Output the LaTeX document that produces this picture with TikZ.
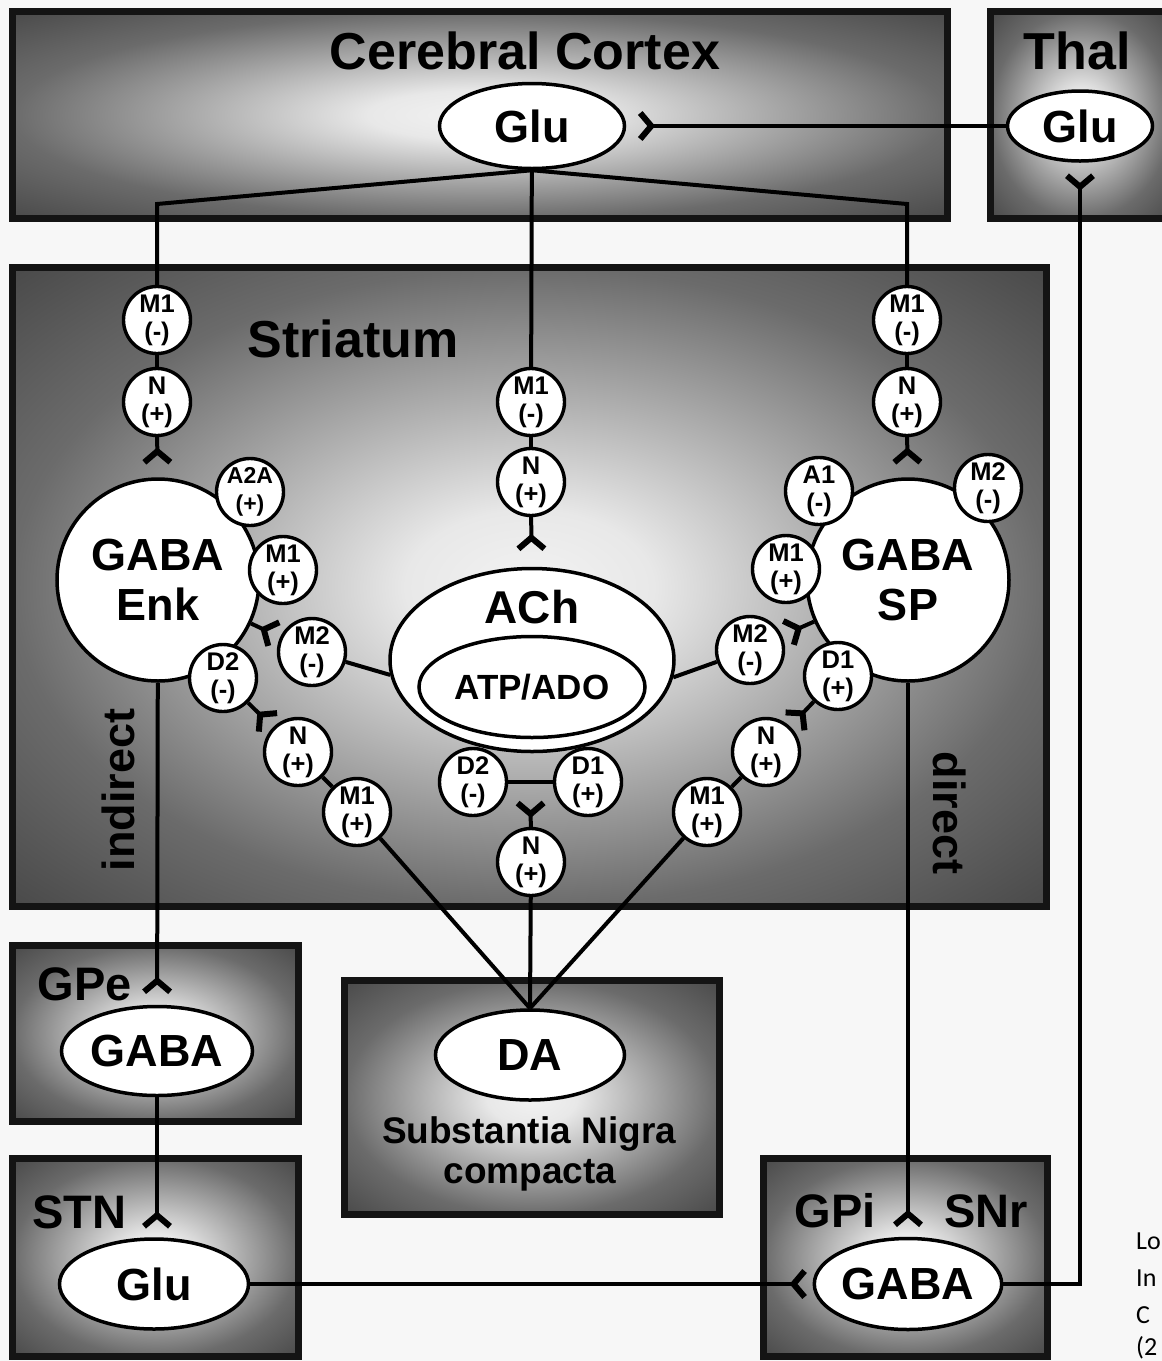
\documentclass[tikz,border=0pt]{standalone}
\usepackage{fontspec}
\setmainfont{Liberation Sans}
\newfontfamily\sidefont{Carlito}
\usetikzlibrary{arrows.meta,shapes.geometric,calc}
\pgfdeclarelayer{bg}
\pgfdeclarelayer{lines}
\pgfsetlayers{bg,lines,main}
\pgfdeclareradialshading{boxsh}{\pgfpoint{0bp}{0bp}}{color(0bp)=(black!5); color(6bp)=(black!9); color(25bp)=(black!58); color(36bp)=(black!72); color(50bp)=(black!75)}
\tikzset{
  box/.style={draw=black!92, line width=7, shade, shading=boxsh, inner sep=0, outer sep=0},
  oval/.style={ellipse, draw, line width=3.5, fill=white, inner sep=0, font=\fontsize{45}{45}\selectfont\bfseries},
  big/.style={circle, draw, line width=3.5, fill=white, minimum size=202, inner sep=0, align=center, font=\fontsize{45}{50}\selectfont\bfseries},
  rec/.style={circle, draw, line width=3.4, fill=white, minimum size=67, inner sep=-8pt, align=center, font=\fontsize{25.5}{28}\selectfont\bfseries},
  conn/.style={line width=4},
  syn/.style={conn, -{Straight Barb[reversed, length=11pt, width=26pt, line width=6pt]}},
  lbl/.style={inner sep=0, font=\fontsize{52}{52}\selectfont\bfseries},
  sidelbl/.style={inner sep=0, anchor=base west, font=\sidefont\fontsize{26}{26}\selectfont}
}
\begin{document}
\begin{tikzpicture}[x=1pt, y=-1pt]
\useasboundingbox (0,0) rectangle (1162,1361);
\begin{pgfonlayer}{bg}
\fill[black!3] (0,0) rectangle (1162,1361);
\node[box, minimum width=935, minimum height=207] (cortexbox) at (480,115) {};
\node[box, minimum width=181, minimum height=207] (thalbox) at (1081,115) {};
\node[box, minimum width=1034, minimum height=639] (stribox) at (529.5,587) {};
\node[box, minimum width=286, minimum height=176] (gpebox) at (155.5,1033.5) {};
\node[box, minimum width=286, minimum height=198] (stnbox) at (155.5,1257.5) {};
\node[box, minimum width=375, minimum height=234] (snbox) at (532,1097.5) {};
\node[box, minimum width=284, minimum height=198] (gpibox) at (905.5,1257.5) {};
\end{pgfonlayer}

% region labels
\node[lbl, anchor=base] (ctxlbl) at (525,69) {Cerebral Cortex};
\node[lbl, anchor=base] (thallbl) at (1077,69) {Thal};
\node[lbl, anchor=base] (strilbl) at (353,357) {Striatum};
\node[lbl, anchor=base, font=\fontsize{47}{47}\selectfont\bfseries] (gpelbl) at (85,1000) {GPe};
\node[lbl, anchor=base, font=\fontsize{47}{47}\selectfont\bfseries] (stnlbl) at (79,1228) {STN};
\node[lbl, anchor=base, font=\fontsize{47}{47}\selectfont\bfseries] (gpilbl) at (835,1227) {GPi};
\node[lbl, anchor=base, font=\fontsize{47}{47}\selectfont\bfseries] (snrlbl) at (986,1227) {SNr};
\node[lbl, anchor=base, font=\fontsize{37}{37}\selectfont\bfseries] (snlbl) at (529,1143) {Substantia Nigra};
\node[lbl, anchor=base, font=\fontsize{37}{37}\selectfont\bfseries] (snlblb) at (530,1183) {compacta};
\node[lbl, rotate=90, font=\fontsize{45}{45}\selectfont\bfseries] (indlbl) at (118,790) {indirect};
\node[lbl, rotate=-90, font=\fontsize{45}{45}\selectfont\bfseries] (dirlbl) at (950,813) {direct};

% transmitter ovals
\node[oval, minimum width=185, minimum height=85] (ctxglu) at (532,126) {Glu};
\node[oval, minimum width=145, minimum height=70] (thalglu) at (1080,126) {Glu};
\node[oval, minimum width=191, minimum height=89] (gpegaba) at (157,1051) {GABA};
\node[oval, minimum width=189, minimum height=90] (stnglu) at (154,1284) {Glu};
\node[oval, minimum width=189, minimum height=90] (da) at (530,1055) {DA};
\node[oval, minimum width=187, minimum height=91] (gpigaba) at (908,1284) {GABA};

% striatal neurons
\node[big] (enk) at (158,580) {GABA\\Enk};
\node[big] (sp) at (908,580) {GABA\\SP};
\node[oval, minimum width=284, minimum height=183] (ach) at (532,660) {};
\node[lbl, anchor=base, font=\fontsize{46}{46}\selectfont\bfseries] (achlbl) at (532,623) {ACh};
\node[oval, minimum width=226, minimum height=101, font=\fontsize{35}{35}\selectfont\bfseries] (atp) at (532,687) {ATP/ADO};

% receptors
\node[rec] (m1a) at (157,320) {M1\\(-)};
\node[rec] (na) at (157,402) {N\\(+)};
\node[rec] (m1b) at (907,320) {M1\\(-)};
\node[rec] (nb) at (907,402) {N\\(+)};
\node[rec] (m1c) at (531,402) {M1\\(-)};
\node[rec] (nc) at (531,482) {N\\(+)};
\node[rec, font=\fontsize{23}{28}\selectfont\bfseries] (a2a) at (250,492) {A2A\\(+)};
\node[rec] (m1pl) at (283,570) {M1\\(+)};
\node[rec] (m2l) at (312,652) {M2\\(-)};
\node[rec] (d2l) at (223,678) {D2\\(-)};
\node[rec] (nl) at (298,752) {N\\(+)};
\node[rec] (m1ll) at (357,812) {M1\\(+)};
\node[rec] (a1) at (819,491) {A1\\(-)};
\node[rec] (m2tr) at (988,488) {M2\\(-)};
\node[rec] (m1pr) at (786,569) {M1\\(+)};
\node[rec] (m2r) at (750,650) {M2\\(-)};
\node[rec] (d1r) at (838,676) {D1\\(+)};
\node[rec] (nr) at (766,752) {N\\(+)};
\node[rec] (m1lr) at (707,812) {M1\\(+)};
\node[rec] (d2c) at (473,782) {D2\\(-)};
\node[rec] (d1c) at (588,782) {D1\\(+)};
\node[rec] (nc2) at (531,862) {N\\(+)};

\coordinate (bl) at (157,204);
\coordinate (br) at (907,204);
\coordinate (barmid) at ($(d2c)!0.5!(d1c)$);

% side text at the right edge
\node[sidelbl] (s1) at (1136,1249) {Lo};
\node[sidelbl] (s2) at (1136,1286) {In};
\node[sidelbl] (s3) at (1136,1323) {C};
\node[sidelbl] (s4) at (1136,1355) {(2};

\begin{pgfonlayer}{lines}
\draw[conn] (ctxglu.south) -- (bl) -- (m1a);
\draw[conn] (ctxglu.south) -- (br) -- (m1b);
\draw[conn] (ctxglu) -- (m1c);
\draw[conn] (m1a) -- (na);
\draw[conn] (m1b) -- (nb);
\draw[conn] (m1c) -- (nc);
\draw[syn, shorten >=12] (na) -- (enk);
\draw[syn, shorten >=12] (nb) -- (sp);
\draw[syn, shorten >=15] (nc) -- (ach);
\draw[syn, shorten >=11] (thalglu) -- (ctxglu);
\draw[syn, shorten >=10] (gpigaba.east) -| (thalglu.south);
\draw[syn, shorten >=4] (enk) -- (m2l);
\draw[syn, shorten >=4] (sp) -- (m2r);
\draw[syn, shorten >=4] (d2l) -- (nl);
\draw[syn, shorten >=4] (d1r) -- (nr);
\draw[conn] (m2l) -- (ach.186);
\draw[conn] (m2r) -- (ach.353);
\draw[conn] (d2c) -- (d1c);
\draw[syn, shorten >=18] (nc2) -- (barmid);
\draw[conn] (nl) -- (m1ll);
\draw[conn] (nr) -- (m1lr);
\draw[conn] (m1ll) -- (da.north);
\draw[conn] (m1lr) -- (da.north);
\draw[conn] (nc2) -- (da.north);
\draw[syn, shorten >=10] (enk) -- (gpegaba);
\draw[syn, shorten >=8] (gpegaba) -- (stnglu.north -| gpegaba);
\draw[syn, shorten >=9] (sp) -- (gpigaba);
\draw[syn, shorten >=5] (stnglu) -- (gpigaba);
\end{pgfonlayer}
\end{tikzpicture}
\end{document}
